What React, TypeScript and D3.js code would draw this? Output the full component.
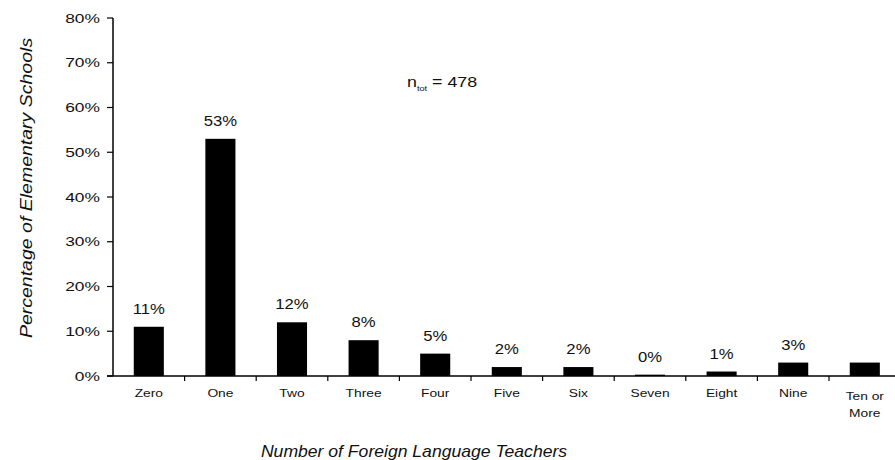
import React from 'react';
import * as d3 from 'd3';

const categories = ['Zero', 'One', 'Two', 'Three', 'Four', 'Five', 'Six', 'Seven', 'Eight', 'Nine', 'Ten or More'];
const values = [11, 53, 12, 8, 5, 2, 2, 0.3, 1, 3, 3];
const valueLabels = ['11%', '53%', '12%', '8%', '5%', '2%', '2%', '0%', '1%', '3%', ''];
const yTicks = [0, 10, 20, 30, 40, 50, 60, 70, 80];

const W = 895;
const H = 460;
const left = 113;
const top = 18;
const bottom = 376;
const font = 'Liberation Sans, Arial, sans-serif';

// the scan is a bit wider than tall, so text gets a horizontal stretch
function SText({ x, y, sx = 1, size, anchor = 'middle', italic = false, rotate = 0, children }: any) {
  return (
    <text
      transform={`translate(${x},${y}) rotate(${rotate}) scale(${sx},1)`}
      textAnchor={anchor}
      fontSize={size}
      fontStyle={italic ? 'italic' : 'normal'}
      fill="#111"
    >
      {children}
    </text>
  );
}

export default function App() {
  const x = d3.scaleBand().domain(categories).range([left, left + 71.6 * categories.length]).paddingInner(0.58).paddingOuter(0.29);
  const y = d3.scaleLinear().domain([0, 80]).range([bottom, top]);
  const step = x.step();
  const start = x(categories[0])! - x.paddingOuter() * step;
  const cx = (c: string) => x(c)! + x.bandwidth() / 2;

  return (
    <svg width={W} height={H} style={{ position: 'absolute', left: 0, top: 0, background: '#fff' }} fontFamily={font}>
      {/* y axis */}
      <line x1={left} x2={left} y1={top} y2={bottom} stroke="#000" strokeWidth={1.5} />
      {yTicks.map(t => (
        <g key={t}>
          <line x1={left - 6} x2={left} y1={y(t)} y2={y(t)} stroke="#000" strokeWidth={1.2} />
          <SText x={left - 13} y={y(t) + 4.5} sx={1.45} size={12} anchor="end">{t}%</SText>
        </g>
      ))}
      {/* x axis */}
      <line x1={left - 6} x2={W} y1={bottom} y2={bottom} stroke="#000" strokeWidth={1.5} />
      {categories.map((c, i) => (
        <line key={c} x1={start + step * (i + 1)} x2={start + step * (i + 1)} y1={bottom} y2={bottom + 5} stroke="#000" strokeWidth={1.2} />
      ))}
      {categories.map((c, i) => (
        <g key={c}>
          <rect x={x(c)} y={y(values[i])} width={x.bandwidth()} height={bottom - y(values[i])} fill="#000" />
          <SText x={cx(c)} y={y(values[i]) - 13} sx={1.15} size={14.5}>{valueLabels[i]}</SText>
          {c === 'Ten or More' ? (
            <>
              <SText x={cx(c)} y={bottom + 24} sx={1.2} size={11.5}>Ten or</SText>
              <SText x={cx(c)} y={bottom + 41} sx={1.2} size={11.5}>More</SText>
            </>
          ) : (
            <SText x={cx(c)} y={bottom + 21} sx={1.2} size={11.5}>{c}</SText>
          )}
        </g>
      ))}
      {/* n total */}
      <SText x={407} y={87} sx={1.15} size={15.5} anchor="start">
        n<tspan fontSize={8} dy={4}>tot</tspan><tspan dy={-4}> = 478</tspan>
      </SText>
      {/* titles */}
      <SText x={32} y={188} rotate={-90} sx={1.22} size={16} italic>Percentage of Elementary Schools</SText>
      <SText x={414} y={457} sx={1.1} size={16} italic>Number of Foreign Language Teachers</SText>
    </svg>
  );
}
